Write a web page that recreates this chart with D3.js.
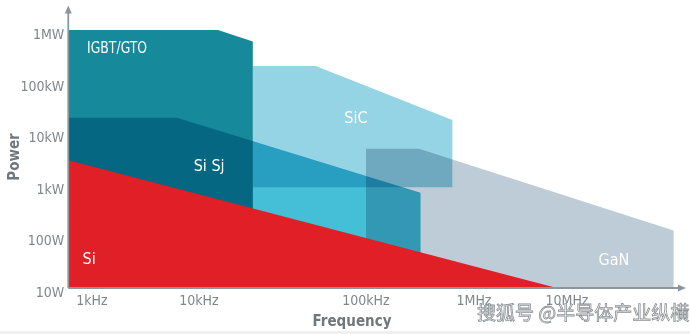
<!DOCTYPE html>
<html>
<head>
<meta charset="utf-8">
<script src="https://cdn.jsdelivr.net/npm/d3@7"></script>
<style>
  html, body { margin: 0; padding: 0; background: #fff; }
  svg { display: block; }
  .cond { font-family: "Liberation Sans Narrow", "DejaVu Sans Condensed", "Roboto", sans-serif; }
</style>
</head>
<body>
<svg id="chart" width="690" height="334"></svg>
<script>
// Frequency tick labels (Hz) and power tick labels (W)
const freqTicks = [1e3, 1e4, 1e5, 1e6, 1e7];
const freqTickLabels = ["1kHz", "10kHz", "100kHz", "1MHz", "10MHz"];
const powerTicks = [10, 100, 1e3, 1e4, 1e5, 1e6];
const powerTickLabels = ["10W", "100W", "1kW", "10kW", "100kW", "1MW"];

// Operating regions of each device technology: [frequency Hz, power W] vertices
const regionNames = ["IGBT/GTO", "Si Sj", "SiC", "GaN", "Si"];
const igbtRegion = [[600, 1e6], [1.3e4, 1e6], [2.1e4, 6e5], [2.1e4, 10], [600, 10]];
const siSjRegion = [[600, 2e4], [6.2e3, 2e4], [3.2e5, 700], [3.2e5, 10], [600, 10]];
const sicRegion  = [[2.1e4, 2e5], [5e4, 2e5], [6.3e5, 1.8e4], [6.3e5, 900], [2.1e4, 900]];
const ganRegion  = [[1e5, 5e3], [3.1e5, 5e3], [1.4e8, 130], [1.4e8, 10], [1e5, 10]];
const siRegion   = [[600, 3e3], [7.8e6, 10], [600, 10]];

// Where each region's name sits, [frequency Hz, power W]
const labelAnchors = [[900, 4.7e5], [1.15e4, 2.4e3], [8.7e4, 2.06e4], [3.2e7, 36], [940, 38]];

const freqExtent = [600, 1.9e8];
const powerExtent = [10, 3e6];

const svg = d3.select("#chart");

// Schematic frequency axis: log within each decade, decades of unequal width
const x = d3.scaleLog()
  .domain(freqTicks)
  .range([92, 199, 366, 474, 567]);
const y = d3.scaleLog()
  .domain([10, 1e6])
  .range([288, 30]);

const line = d3.line().x(d => x(d[0])).y(d => y(d[1]));

const regionColors = {
  "IGBT/GTO": "#168a9a",
  "Si Sj": "#45bed7",
  "SiC": "#94d4e4",
  "GaN": "#bdccd6",
  "Si": "#e01f27"
};

// Overlapping regions darken each other (multiply); Si lies on top
const blendGroup = svg.append("g").style("isolation", "isolate");
[["IGBT/GTO", igbtRegion], ["Si Sj", siSjRegion], ["SiC", sicRegion], ["GaN", ganRegion]]
  .forEach(([name, pts]) => {
    blendGroup.append("path")
      .attr("d", line(pts) + "Z")
      .attr("fill", regionColors[name])
      .style("mix-blend-mode", "multiply");
  });
svg.append("path")
  .attr("d", line(siRegion) + "Z")
  .attr("fill", regionColors["Si"]);

// Region names
const labelOrder = ["IGBT/GTO", "Si Sj", "SiC", "GaN", "Si"];
labelOrder.forEach((name, i) => {
  const [f, p] = labelAnchors[i];
  const t = svg.append("text")
    .attr("class", "cond")
    .attr("x", x(f))
    .attr("y", y(p))
    .attr("dy", "0.35em")
    .attr("text-anchor", name === "IGBT/GTO" ? "start" : "middle")
    .attr("fill", "#ffffff")
    .attr("font-size", 16)
    .text(name);
  if (name === "IGBT/GTO") {
    t.attr("textLength", 60).attr("lengthAdjust", "spacingAndGlyphs");
  }
});

// Axes with arrow heads
const axisColor = "#8c959b";
const x0 = x(freqExtent[0]), y0 = y(powerExtent[0]);
const xEnd = x(freqExtent[1]), yEnd = y(powerExtent[1]);
svg.append("line")
  .attr("x1", x0).attr("y1", y0).attr("x2", xEnd - 6).attr("y2", y0)
  .attr("stroke", axisColor).attr("stroke-width", 1.8);
svg.append("path")
  .attr("d", `M${xEnd},${y0} L${xEnd - 8},${y0 - 3.5} L${xEnd - 8},${y0 + 3.5} Z`)
  .attr("fill", axisColor);
svg.append("line")
  .attr("x1", x0).attr("y1", y0).attr("x2", x0).attr("y2", yEnd + 6)
  .attr("stroke", axisColor).attr("stroke-width", 1.8);
svg.append("path")
  .attr("d", `M${x0},${yEnd} L${x0 - 3.5},${yEnd + 8} L${x0 + 3.5},${yEnd + 8} Z`)
  .attr("fill", axisColor);

// Tick labels
const tickColor = "#7f878d";
svg.append("g").selectAll("text")
  .data(powerTicks)
  .join("text")
  .attr("class", "cond")
  .attr("x", x0 - 4)
  .attr("y", d => y(d) + 4)
  .attr("dy", "0.35em")
  .attr("text-anchor", "end")
  .attr("fill", tickColor)
  .attr("font-size", 14)
  .text((d, i) => powerTickLabels[i]);

svg.append("g").selectAll("text")
  .data(freqTicks)
  .join("text")
  .attr("class", "cond")
  .attr("x", d => x(d))
  .attr("y", y0 + 12)
  .attr("dy", "0.35em")
  .attr("text-anchor", "middle")
  .attr("fill", tickColor)
  .attr("font-size", 14)
  .text((d, i) => freqTickLabels[i]);

// Axis titles
svg.append("text")
  .attr("class", "cond")
  .attr("transform", "translate(14,157) rotate(-90)")
  .attr("text-anchor", "middle")
  .attr("dy", "0.35em")
  .attr("fill", "#6f777d")
  .attr("font-size", 15)
  .attr("font-weight", "bold")
  .text("Power");
svg.append("text")
  .attr("class", "cond")
  .attr("x", 352)
  .attr("y", 321)
  .attr("dy", "0.35em")
  .attr("text-anchor", "middle")
  .attr("fill", "#6f777d")
  .attr("font-size", 15)
  .attr("font-weight", "bold")
  .text("Frequency");

// Source watermark
svg.append("text")
  .attr("x", 477)
  .attr("y", 313)
  .attr("dy", "0.35em")
  .attr("font-family", "Noto Sans CJK SC")
  .attr("font-size", 19)
  .attr("fill", "#ffffff")
  .attr("stroke", "#8a9196")
  .attr("stroke-width", 0.8)
  .text("搜狐号 @半导体产业纵横");

// Faint bottom edge
svg.append("rect")
  .attr("x", 0).attr("y", 331).attr("width", 690).attr("height", 3)
  .attr("fill", "#f0f0f0");
</script>
</body>
</html>
